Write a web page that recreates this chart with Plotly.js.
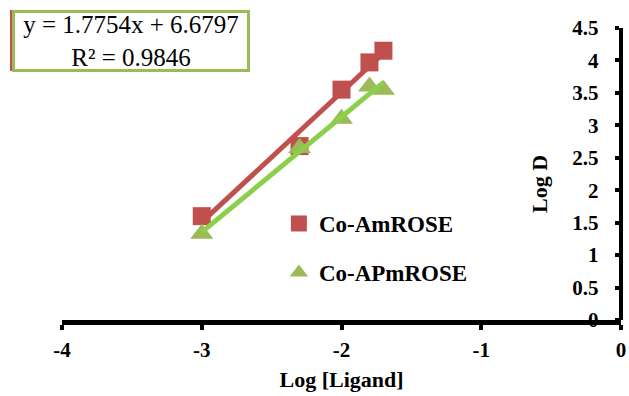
<!DOCTYPE html>
<html>
<head>
<meta charset="utf-8">
<script src="https://cdn.plot.ly/plotly-3.0.1.min.js"></script>
<style>
  html, body { margin: 0; padding: 0; background: #fff; }
  #chart { width: 629px; height: 396px; }
</style>
</head>
<body>
<div id="chart"></div>
<script>
// Log [Ligand] values shared by both complexes
const logLigand = [-3, -2.3, -2, -1.8, -1.7];
// Log D for each complex
const amRoseLogD = [1.6, 2.68, 3.55, 3.97, 4.15];
const apmRoseLogD = [1.33, 2.65, 3.1, 3.6, 3.55];

// Linear fit reported for Co-APmROSE
const apmSlope = 1.7754;
const apmIntercept = 6.6797;
const apmR2 = 0.9846;

const xTickVals = [-4, -3, -2, -1, 0];
const yTickVals = [0, 0.5, 1, 1.5, 2, 2.5, 3, 3.5, 4, 4.5];

const RED = '#C0504D';
const OLIVE = '#9BBB59';
const LIME = '#8CCF4A';
const SERIF = 'Liberation Serif, Times New Roman, serif';

// Least-squares line through a series
function linFit(xs, ys) {
  const n = xs.length;
  const mx = xs.reduce((a, b) => a + b, 0) / n;
  const my = ys.reduce((a, b) => a + b, 0) / n;
  let sxy = 0, sxx = 0;
  for (let i = 0; i < n; i++) {
    sxy += (xs[i] - mx) * (ys[i] - my);
    sxx += (xs[i] - mx) * (xs[i] - mx);
  }
  const m = sxy / sxx;
  return { m: m, b: my - m * mx };
}

const xEnds = [Math.min(...logLigand), Math.max(...logLigand)];
const amFit = linFit(logLigand, amRoseLogD);

const traces = [
  {
    x: xEnds, y: xEnds.map(x => amFit.m * x + amFit.b),
    mode: 'lines', line: { color: RED, width: 5 },
    showlegend: false, hoverinfo: 'skip', cliponaxis: false
  },
  {
    x: logLigand, y: amRoseLogD, name: 'Co-AmROSE',
    mode: 'markers', legendgroup: 'a', cliponaxis: false,
    marker: { symbol: 'square', size: 18, color: RED }
  },
  {
    x: logLigand, y: apmRoseLogD, name: 'Co-APmROSE',
    mode: 'markers', legendgroup: 'b', cliponaxis: false,
    marker: { symbol: 'triangle-up', size: 20, color: OLIVE }
  },
  {
    x: xEnds, y: xEnds.map(x => apmSlope * x + apmIntercept),
    mode: 'lines', line: { color: LIME, width: 5 },
    showlegend: false, hoverinfo: 'skip', cliponaxis: false
  }
];

const tickFont = { family: SERIF, size: 21, weight: 'bold', color: '#000' };
const titleFont = { family: SERIF, size: 22, weight: 'bold', color: '#000' };

const layout = {
  width: 629, height: 396,
  margin: { l: 62, r: 8, t: 28, b: 76 },
  paper_bgcolor: '#fff', plot_bgcolor: '#fff',
  font: { family: SERIF, color: '#000', size: 17 },
  xaxis: {
    range: [-4, 0], tickvals: xTickVals, ticktext: xTickVals.map(String),
    showgrid: false, zeroline: false,
    showline: true, linecolor: '#000', linewidth: 5,
    ticks: 'outside', ticklen: 5, tickwidth: 4, tickcolor: '#000',
    ticklabelstandoff: 2,
    tickfont: tickFont,
    title: { text: 'Log [Ligand]', font: titleFont, standoff: 12 }
  },
  yaxis: {
    range: [0, 4.5], tickvals: yTickVals,
    // en space + hair space keeps the labels clear of the axis line
    ticktext: yTickVals.map(v => String(v) + '\u2002\u200A'),
    anchor: 'free', position: 1, side: 'left',
    showgrid: false, zeroline: false,
    showline: true, linecolor: '#000', linewidth: 4,
    ticks: 'outside', ticklen: 4, tickwidth: 4, tickcolor: '#000',
    tickfont: tickFont
  },
  showlegend: true,
  legend: {
    x: 0.388, y: 0.404, xanchor: 'left', yanchor: 'top',
    bgcolor: 'rgba(0,0,0,0)', traceorder: 'grouped', tracegroupgap: 16,
    font: { family: SERIF, size: 23, weight: 'bold', color: '#000' },
    itemwidth: 30
  },
  shapes: [
    { type: 'line', xref: 'paper', yref: 'paper',
      x0: (11 - 62) / 559, x1: (11 - 62) / 559,
      y0: (320 - 10) / 292, y1: (320 - 71) / 292,
      line: { color: RED, width: 2 } }
  ],
  annotations: [
    {
      xref: 'paper', yref: 'paper',
      x: (12 - 62) / 559, y: (320 - 10) / 292, xanchor: 'left', yanchor: 'top',
      text: 'y = ' + apmSlope.toFixed(4) + 'x + ' + apmIntercept.toFixed(4) +
            '<br>R² = ' + apmR2.toFixed(4),
      showarrow: false, align: 'center',
      font: { family: SERIF, size: 25, color: '#000' },
      bordercolor: OLIVE, borderwidth: 3, borderpad: 1,
      bgcolor: '#fff', width: 230, height: 54
    },
    {
      xref: 'paper', yref: 'paper',
      x: (539 - 62) / 559, y: (320 - 184) / 292,
      xanchor: 'center', yanchor: 'middle',
      text: 'Log D', textangle: -90, showarrow: false,
      font: titleFont
    }
  ]
};

Plotly.newPlot('chart', traces, layout, { displayModeBar: false, staticPlot: true });
</script>
</body>
</html>
